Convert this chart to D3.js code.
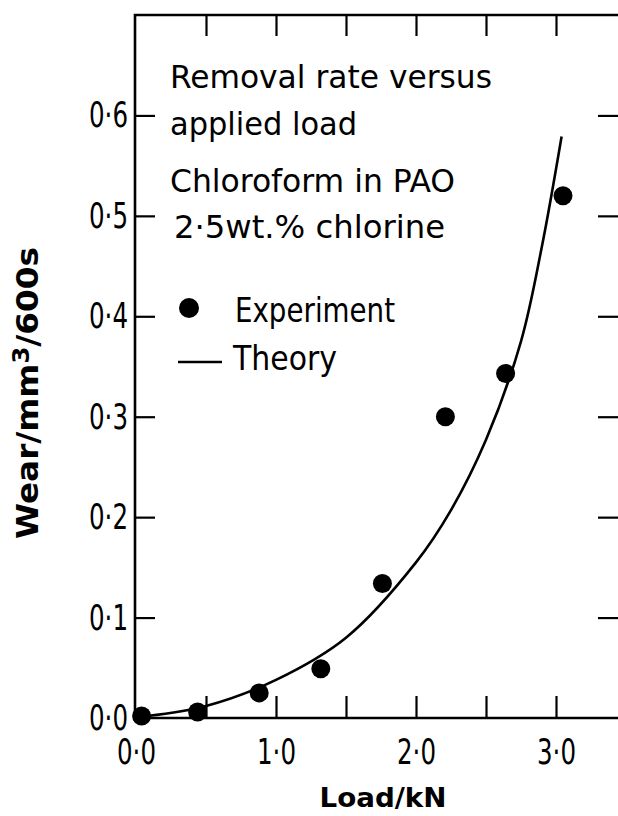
<!DOCTYPE html>
<html>
<head>
<meta charset="utf-8">
<script src="https://cdn.jsdelivr.net/npm/d3@7"></script>
<style>
  body { margin: 0; background: #fff; }
  svg { display: block; }
</style>
</head>
<body>
<svg id="chart" width="618" height="816"></svg>
<script>
// experiment (dots)
const expLoad = [0.04, 0.44, 0.88, 1.32, 1.76, 2.21, 2.64, 3.05];
const expWear = [0.002, 0.006, 0.025, 0.049, 0.134, 0.300, 0.343, 0.520];

// theory (line)
const theoryLoad = [0.08, 0.5, 1.0, 1.5, 2.0, 2.25, 2.5, 2.75, 2.9, 3.04];
const theoryWear = [0.002, 0.012, 0.038, 0.080, 0.155, 0.207, 0.277, 0.375, 0.47, 0.579];

const xTicks = [0.5, 1.0, 1.5, 2.0, 2.5, 3.0];
const xLabels = [0, 1, 2, 3];
const yTicks = [0.1, 0.2, 0.3, 0.4, 0.5, 0.6];
const yLabels = [0, 0.1, 0.2, 0.3, 0.4, 0.5, 0.6];

const noteLines = ["Removal rate versus", "applied load", "Chloroform in PAO", "2\u00B75wt.% chlorine"];
const legendLabels = ["Experiment", "Theory"];

const svg = d3.select("#chart");
const W = 618;
const x = d3.scaleLinear().domain([0, 3.5]).range([136, 626]);
const y = d3.scaleLinear().domain([0, 0.7]).range([718, 15]);
const fmt = d => d.toFixed(1).replace(".", "\u00B7");
const tickFont = "'DejaVu Sans', sans-serif";
const titleFont = "'DejaVu Sans', sans-serif";

// frame (right side is cut off in the scan)
svg.append("path")
  .attr("d", `M${W},${y(0.7)}H${x(0) - 1}V${y(0)}H${W}`)
  .attr("fill", "none")
  .attr("stroke", "#000")
  .attr("stroke-width", 2.6);

function tickAxis(axis, tx, ty) {
  const g = svg.append("g")
    .attr("transform", `translate(${tx},${ty})`)
    .call(axis);
  g.select(".domain").remove();
  g.selectAll(".tick line").attr("stroke", "#000").attr("stroke-width", 2.2);
  return g;
}

tickAxis(d3.axisBottom(x).tickValues(xTicks).tickSize(-22).tickFormat(""), 0, y(0));
tickAxis(d3.axisTop(x).tickValues(xTicks).tickSize(-21).tickFormat(""), 0, y(0.7));
tickAxis(d3.axisLeft(y).tickValues(yTicks).tickSize(-20).tickFormat(""), x(0) - 1, 0);
tickAxis(d3.axisRight(y).tickValues(yTicks).tickSize(-20).tickFormat(""), W, 0);

// tick labels
function labelAxis(axis, tx, ty) {
  const g = svg.append("g")
    .attr("transform", `translate(${tx},${ty})`)
    .call(axis);
  g.select(".domain").remove();
  g.selectAll("text")
    .attr("fill", "#000")
    .attr("font-family", tickFont)
    .attr("font-size", 36)
    .attr("textLength", 39)
    .attr("lengthAdjust", "spacingAndGlyphs");
}
labelAxis(d3.axisBottom(x).tickValues(xLabels).tickSize(0).tickPadding(20).tickFormat(fmt), 0, y(0));
labelAxis(d3.axisLeft(y).tickValues(yLabels).tickSize(0).tickPadding(7).tickFormat(fmt), x(0) - 1, 0);

// axis titles
svg.append("text")
  .attr("x", 383)
  .attr("y", 807)
  .attr("text-anchor", "middle")
  .attr("font-family", titleFont)
  .attr("font-weight", "bold")
  .attr("font-size", 27)
  .attr("textLength", 127)
  .attr("lengthAdjust", "spacingAndGlyphs")
  .text("Load/kN");

const yt = svg.append("text")
  .attr("transform", "translate(38,393) rotate(-90)")
  .attr("text-anchor", "middle")
  .attr("font-family", titleFont)
  .attr("font-weight", "bold")
  .attr("font-size", 31)
  .attr("textLength", 292)
  .attr("lengthAdjust", "spacingAndGlyphs");
yt.append("tspan").text("Wear/mm");
yt.append("tspan").attr("font-size", 23).attr("dy", -9).text("3");
yt.append("tspan").attr("dy", 9).text("/600s");

// theory curve
const line = d3.line()
  .x(d => x(d[0]))
  .y(d => y(d[1]))
  .curve(d3.curveCatmullRom.alpha(0.5));

svg.append("path")
  .datum(d3.zip(theoryLoad, theoryWear))
  .attr("d", line)
  .attr("fill", "none")
  .attr("stroke", "#000")
  .attr("stroke-width", 2.6);

// experiment dots
svg.append("g")
  .selectAll("circle")
  .data(d3.zip(expLoad, expWear))
  .join("circle")
  .attr("cx", d => x(d[0]))
  .attr("cy", d => y(d[1]))
  .attr("r", 9.5)
  .attr("fill", "#000");

// annotation text
const noteFont = "'DejaVu Sans Condensed', 'DejaVu Sans', sans-serif";
const noteBase = [88, 135, 192, 238];
const noteX = [170, 170, 170, 174];
const noteLen = [322, 187, 285, 271];
svg.append("g")
  .selectAll("text")
  .data(noteLines)
  .join("text")
  .attr("x", (d, i) => noteX[i])
  .attr("y", (d, i) => noteBase[i])
  .attr("font-family", noteFont)
  .attr("font-size", 32)
  .attr("textLength", (d, i) => noteLen[i])
  .attr("lengthAdjust", "spacingAndGlyphs")
  .text(d => d);

// legend
const leg = svg.append("g");
leg.append("circle").attr("cx", 189).attr("cy", 308).attr("r", 10).attr("fill", "#000");
leg.append("line")
  .attr("x1", 178).attr("x2", 222)
  .attr("y1", 362).attr("y2", 362)
  .attr("stroke", "#000").attr("stroke-width", 2.4);
const legX = [235, 233];
const legBase = [322, 370];
const legLen = [160, 104];
leg.selectAll("text")
  .data(legendLabels)
  .join("text")
  .attr("x", (d, i) => legX[i])
  .attr("y", (d, i) => legBase[i])
  .attr("font-family", noteFont)
  .attr("font-size", 34)
  .attr("textLength", (d, i) => legLen[i])
  .attr("lengthAdjust", "spacingAndGlyphs")
  .text(d => d);
</script>
</body>
</html>
